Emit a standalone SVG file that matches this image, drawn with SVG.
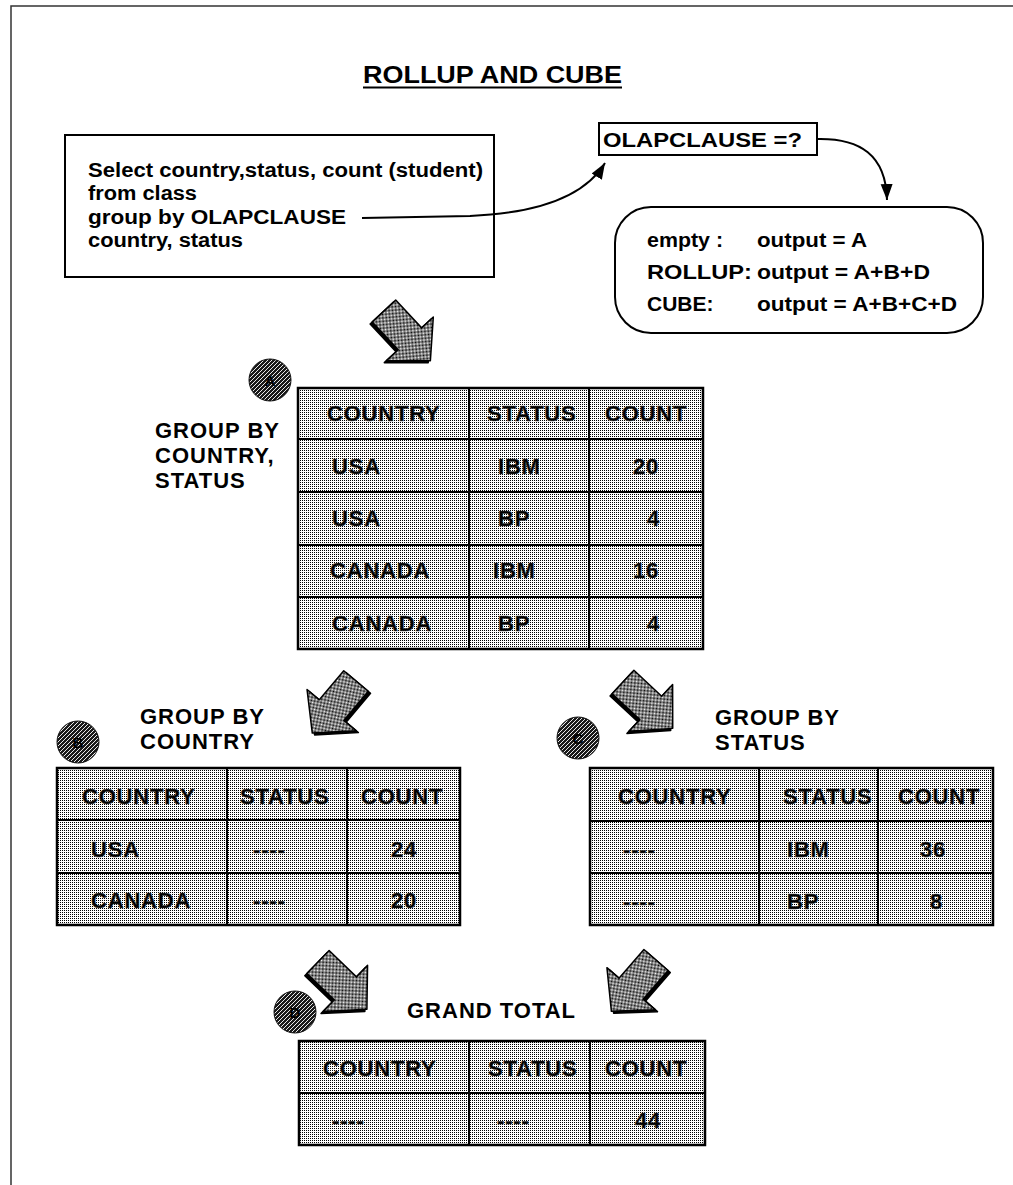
<svg xmlns="http://www.w3.org/2000/svg" width="1013" height="1185" viewBox="0 0 1013 1185">
<style>
text{font-family:"Liberation Sans",Arial,sans-serif;font-weight:bold;fill:#000}
.t{font-size:20px}
.b{font-size:21px}
.ttl{font-size:23px}
.c{font-size:22px;letter-spacing:0.8px;stroke:#444;stroke-width:0.5}
.lbl{font-size:22px;letter-spacing:1px}
.cl{font-size:15px;fill:#000}
.box{fill:#fff;stroke:#000;stroke-width:2}
.cell{fill:url(#dots);stroke:#000;stroke-width:2.5}
.grid{stroke:#000;stroke-width:2;fill:none}
.conn{fill:none;stroke:#000;stroke-width:2}
.blk{fill:url(#checker);stroke:#000;stroke-width:1.5;stroke-linejoin:round}
.blks{fill:#000;stroke:#000;stroke-width:1.5;stroke-linejoin:round}
.circ{fill:url(#hatch);stroke:#111;stroke-width:1}
</style>
<defs>
<pattern id="dots" width="2" height="2" patternUnits="userSpaceOnUse">
<rect width="2" height="2" fill="#fff"/>
<rect width="1" height="1" fill="#000"/>
</pattern>
<pattern id="checker" width="2" height="2" patternUnits="userSpaceOnUse">
<rect width="2" height="2" fill="#fff"/>
<rect width="1" height="1" fill="#000"/>
<rect x="1" y="1" width="1" height="1" fill="#000"/>
</pattern>
<pattern id="hatch" width="4" height="4" patternUnits="userSpaceOnUse">
<rect width="4" height="4" fill="#1a1a1a"/>
<path d="M0,4 L4,0" stroke="#fff" stroke-width="0.9"/>
</pattern>
<marker id="ah" markerUnits="userSpaceOnUse" markerWidth="18" markerHeight="14" refX="16" refY="6" orient="auto">
<path d="M0,0 L16,6 L0,12 z" fill="#000"/>
</marker>
<path id="barrow" d="M0,-16 L38,-16 L38,-32 L68,0 L38,32 L38,16 L0,16 Z"/>
</defs>

<rect width="1013" height="1185" fill="#fff"/>
<path d="M11,1185 L11,6 L1013,6" fill="none" stroke="#333" stroke-width="1.5"/>

<g id="title">
<text class="ttl" x="363" y="83" textLength="259" lengthAdjust="spacingAndGlyphs">ROLLUP AND CUBE</text>
<line x1="363" y1="87.5" x2="622" y2="87.5" stroke="#000" stroke-width="2"/>
</g>

<g id="query">
<rect class="box" x="65" y="135" width="429" height="142"/>
<text class="t" x="88" y="177" textLength="395" lengthAdjust="spacingAndGlyphs">Select country,status, count (student)</text>
<text class="t" x="88" y="200" textLength="109" lengthAdjust="spacingAndGlyphs">from class</text>
<text class="t" x="88" y="224" textLength="258" lengthAdjust="spacingAndGlyphs">group by OLAPCLAUSE</text>
<text class="t" x="88" y="247" textLength="155" lengthAdjust="spacingAndGlyphs">country, status</text>
</g>

<g id="olapclause">
<rect class="box" x="599" y="123" width="218" height="32"/>
<text class="t" x="603" y="147" textLength="199" lengthAdjust="spacingAndGlyphs">OLAPCLAUSE =?</text>
</g>

<g id="outputs">
<rect class="box" x="615" y="207" width="368" height="126" rx="36" ry="36"/>
<text class="b" x="647" y="247" textLength="76" lengthAdjust="spacingAndGlyphs">empty :</text>
<text class="b" x="757" y="247" textLength="110" lengthAdjust="spacingAndGlyphs">output = A</text>
<text class="b" x="647" y="279" textLength="105" lengthAdjust="spacingAndGlyphs">ROLLUP:</text>
<text class="b" x="757" y="279" textLength="173" lengthAdjust="spacingAndGlyphs">output = A+B+D</text>
<text class="b" x="647" y="311">CUBE:</text>
<text class="b" x="757" y="311" textLength="200" lengthAdjust="spacingAndGlyphs">output = A+B+C+D</text>
</g>

<g id="connectors">
<path class="conn" d="M362,218 L470,216 C540,213 585,196 605,163" marker-end="url(#ah)"/>
<path class="conn" d="M817,139 C860,138 886,155 887,200" marker-end="url(#ah)"/>
<g transform="translate(384,311) rotate(47)"><use href="#barrow" class="blks" transform="translate(0,3)"/><use href="#barrow" class="blk"/></g>
<g transform="translate(356,681) rotate(130)"><use href="#barrow" class="blks" transform="translate(0,-3)"/><use href="#barrow" class="blk"/></g>
<g transform="translate(623,682) rotate(43)"><use href="#barrow" class="blks" transform="translate(0,3)"/><use href="#barrow" class="blk"/></g>
<g transform="translate(318,962) rotate(44)"><use href="#barrow" class="blks" transform="translate(0,3)"/><use href="#barrow" class="blk"/></g>
<g transform="translate(656,960) rotate(131)"><use href="#barrow" class="blks" transform="translate(0,-3)"/><use href="#barrow" class="blk"/></g>
</g>

<g id="tableA">
<circle class="circ" cx="270" cy="380" r="21"/>
<text class="cl" x="270" y="386" text-anchor="middle">A</text>
<text class="lbl" x="155" y="438">GROUP BY</text>
<text class="lbl" x="155" y="463">COUNTRY,</text>
<text class="lbl" x="155" y="488">STATUS</text>
<rect class="cell" x="298" y="388" width="405" height="261"/>
<path class="grid" d="M469,388 V649 M589,388 V649 M298,439 H703 M298,492 H703 M298,545 H703 M298,597 H703"/>
<text class="c" x="327" y="421">COUNTRY</text>
<text class="c" x="487" y="421">STATUS</text>
<text class="c" x="605" y="421">COUNT</text>
<text class="c" x="332" y="474">USA</text>
<text class="c" x="498" y="474">IBM</text>
<text class="c" x="633" y="474">20</text>
<text class="c" x="332" y="526">USA</text>
<text class="c" x="498" y="526">BP</text>
<text class="c" x="647" y="526">4</text>
<text class="c" x="330" y="578">CANADA</text>
<text class="c" x="493" y="578">IBM</text>
<text class="c" x="633" y="578">16</text>
<text class="c" x="332" y="631">CANADA</text>
<text class="c" x="498" y="631">BP</text>
<text class="c" x="647" y="631">4</text>
</g>

<g id="tableB">
<circle class="circ" cx="78" cy="742" r="21"/>
<text class="cl" x="78" y="748" text-anchor="middle">B</text>
<text class="lbl" x="140" y="724">GROUP BY</text>
<text class="lbl" x="140" y="749">COUNTRY</text>
<rect class="cell" x="57" y="768" width="403" height="157"/>
<path class="grid" d="M227,768 V925 M347,768 V925 M57,820 H460 M57,873 H460"/>
<text class="c" x="82" y="804">COUNTRY</text>
<text class="c" x="240" y="804">STATUS</text>
<text class="c" x="361" y="804">COUNT</text>
<text class="c" x="91" y="857">USA</text>
<text class="c" x="253" y="857">----</text>
<text class="c" x="391" y="857">24</text>
<text class="c" x="91" y="908">CANADA</text>
<text class="c" x="253" y="908">----</text>
<text class="c" x="391" y="908">20</text>
</g>

<g id="tableC">
<circle class="circ" cx="578" cy="738" r="21"/>
<text class="cl" x="578" y="744" text-anchor="middle">C</text>
<text class="lbl" x="715" y="725">GROUP BY</text>
<text class="lbl" x="715" y="750">STATUS</text>
<rect class="cell" x="590" y="768" width="403" height="157"/>
<path class="grid" d="M759,768 V925 M878,768 V925 M590,821 H993 M590,873 H993"/>
<text class="c" x="618" y="804">COUNTRY</text>
<text class="c" x="783" y="804">STATUS</text>
<text class="c" x="898" y="804">COUNT</text>
<text class="c" x="623" y="857">----</text>
<text class="c" x="787" y="857">IBM</text>
<text class="c" x="920" y="857">36</text>
<text class="c" x="623" y="909">----</text>
<text class="c" x="787" y="909">BP</text>
<text class="c" x="930" y="909">8</text>
</g>

<g id="tableD">
<circle class="circ" cx="295" cy="1012" r="21"/>
<text class="cl" x="295" y="1018" text-anchor="middle">D</text>
<text class="lbl" x="407" y="1018">GRAND TOTAL</text>
<rect class="cell" x="299" y="1041" width="406" height="104"/>
<path class="grid" d="M469,1041 V1145 M590,1041 V1145 M299,1093 H705"/>
<text class="c" x="323" y="1076">COUNTRY</text>
<text class="c" x="488" y="1076">STATUS</text>
<text class="c" x="605" y="1076">COUNT</text>
<text class="c" x="332" y="1128">----</text>
<text class="c" x="497" y="1128">----</text>
<text class="c" x="635" y="1128">44</text>
</g>
</svg>
